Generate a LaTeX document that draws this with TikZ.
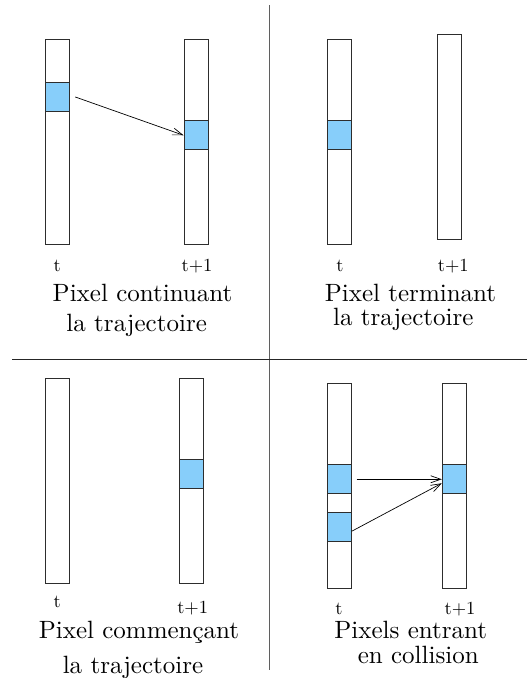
\documentclass[tikz,border=0pt]{standalone}
\usepackage{fontspec}
\newfontfamily\capfont{lmroman10-regular.otf}
\usetikzlibrary{arrows.meta}
\definecolor{cellblue}{RGB}{135,206,250}
\definecolor{edgegray}{RGB}{45,45,45}
\definecolor{rulegray}{RGB}{95,95,95}
\begin{document}
\begin{tikzpicture}[x=1pt,y=-1pt,
  bar/.style={draw=edgegray,line width=0.9pt,fill=white,inner sep=0pt,
    minimum width=24pt,minimum height=205pt,anchor=north west},
  cell/.style={draw=edgegray,line width=0.9pt,fill=cellblue,inner sep=0pt,
    minimum width=24pt,minimum height=29pt,anchor=north west},
  move/.style={draw=black,line width=0.7pt,
    -{Straight Barb[length=10pt,width=7pt,line width=0.7pt]}},
  timelbl/.style={anchor=base,inner sep=0pt,font=\capfont\fontsize{18.5}{22}\selectfont},
  caption/.style={anchor=base,inner sep=0pt,font=\capfont\fontsize{25}{30}\selectfont}]
\useasboundingbox (0,0) rectangle (527,678);

% separating rules
\draw[rulegray,line width=1.4pt] (269.5,5) -- (269.5,670);
\draw[black!85,line width=1.4pt] (12,359.5) -- (527,359.5);

% --- top left: pixel continuing the trajectory
\node[bar] (tlA) at (45.3,39.3) {};
\node[bar] (tlB) at (183.5,39.3) {};
\node[cell] (tlAc) at (45.3,82) {};
\node[cell] (tlBc) at (183.5,120.3) {};
\draw[move] ([xshift=5pt]tlAc.east) -- (tlBc.west);
\node[timelbl] (tlt) at (57.3,271) {t};
\node[timelbl] (tlt1) at (197,271) {t+1};
\node[caption] (tlcap1) at (142.5,301.5) {Pixel continuant};
\node[caption] (tlcap2) at (136.7,331) {la trajectoire};

% --- top right: pixel ending the trajectory
\node[bar] (trA) at (326.8,39.3) {};
\node[bar] (trB) at (436.8,34.3) {};
\node[cell] (trAc) at (326.8,120.3) {};
\node[timelbl] (trt) at (340,271) {t};
\node[timelbl] (trt1) at (453.3,271) {t+1};
\node[caption] (trcap1) at (410.5,301.5) {Pixel terminant};
\node[caption] (trcap2) at (403.3,325) {la trajectoire};

% --- bottom left: pixel starting the trajectory
\node[bar] (blA) at (45.3,378.3) {};
\node[bar] (blB) at (178.8,378.3) {};
\node[cell] (blBc) at (178.8,459.3) {};
\node[timelbl] (blt) at (57.3,607) {t};
\node[timelbl] (blt1) at (192.7,613) {t+1};
\node[caption] (blcap1) at (139,638) {Pixel commençant};
\node[caption] (blcap2) at (133,673) {la trajectoire};

% --- bottom right: pixels colliding
\node[bar] (brA) at (326.8,383.3) {};
\node[bar] (brB) at (441.8,383.3) {};
\node[cell] (brAc1) at (326.8,464.3) {};
\node[cell] (brAc2) at (326.8,512.3) {};
\node[cell] (brBc) at (441.8,464.3) {};
\draw[move] ([xshift=5pt]brAc1.east) -- (brBc.west);
\draw[move] ([yshift=-4pt]brAc2.east) -- ([yshift=-4pt]brBc.west);
\node[timelbl] (brt) at (339,614) {t};
\node[timelbl] (brt1) at (460,614) {t+1};
\node[caption] (brcap1) at (410.7,638) {Pixels entrant};
\node[caption] (brcap2) at (418.3,663) {en collision};
\end{tikzpicture}
\end{document}
